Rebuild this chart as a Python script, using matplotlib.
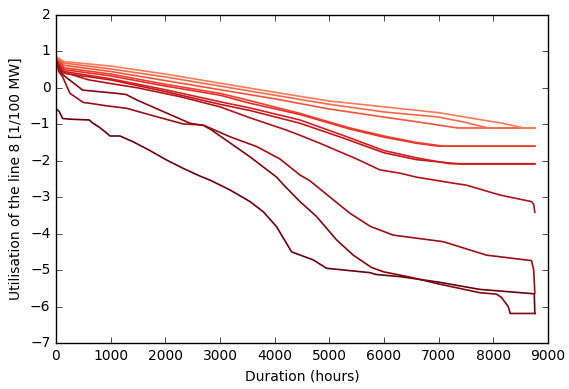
import matplotlib.pyplot as plt
import numpy as np

# duration curves of line 8 utilisation, one per scenario
l1_x = [0, 60, 122, 274, 609, 670, 792, 896, 988, 1170, 1414, 1719, 2024, 2329, 2634, 2817,
        3183, 3549, 3793, 4036, 4310, 4706, 4950, 5743, 5853, 6300, 7000, 7755, 8750, 8760]
l1_y = [-0.57, -0.65, -0.84, -0.86, -0.88, -0.96, -1.08, -1.2, -1.32, -1.32, -1.48, -1.72, -1.98,
        -2.21, -2.42, -2.53, -2.80, -3.12, -3.40, -3.81, -4.50, -4.72, -4.95, -5.07, -5.12,
        -5.18, -5.33, -5.53, -5.65, -6.19]

l2_x = [0, 60, 134, 488, 1110, 1280, 1476, 1902, 2451, 2700, 2850, 3548, 4037, 4157, 4463,
        4767, 5133, 5438, 5774, 6000, 6500, 7000, 7755, 8060, 8150, 8273, 8310, 8760]
l2_y = [0.8, 0.5, 0.35, -0.06, -0.15, -0.18, -0.33, -0.61, -0.97, -1.03, -1.16, -1.89, -2.45,
        -2.65, -3.12, -3.53, -4.17, -4.59, -4.93, -5.05, -5.2, -5.38, -5.62, -5.66, -5.75,
        -6.0, -6.19, -6.19]

l3_x = [0, 50, 122, 256, 500, 610, 915, 1293, 1719, 2329, 2694, 3183, 3671, 4097, 4463,
        4646, 5377, 5750, 6170, 7084, 7877, 8700, 8740, 8760]
l3_y = [0.8, 0.45, 0.3, -0.15, -0.4, -0.42, -0.49, -0.56, -0.74, -0.99, -1.02, -1.34, -1.61,
        -1.95, -2.39, -2.55, -3.44, -3.8, -4.04, -4.22, -4.59, -4.74, -5.0, -5.64]

l4_x = [0, 100, 600, 1000, 1500, 2268, 3000, 3548, 4220, 4463, 4829, 5500, 5926, 6292, 6597,
        7207, 7511, 8120, 8700, 8740, 8760]
l4_y = [0.8, 0.45, 0.22, 0.12, 0.0, -0.24, -0.52, -0.82, -1.16, -1.3, -1.52, -1.95, -2.25,
        -2.34, -2.45, -2.6, -2.67, -2.94, -3.12, -3.2, -3.41]

d1_x = [0, 150, 1000, 2000, 3000, 3548, 4463, 5300, 6000, 6600, 7200, 8760]
d1_y = [0.85, 0.45, 0.25, -0.05, -0.38, -0.55, -0.88, -1.33, -1.72, -1.92, -2.08, -2.08]
d2_x = [0, 150, 1000, 2000, 3000, 3548, 4463, 5300, 6000, 6600, 7400, 8760]
d2_y = [0.85, 0.4, 0.22, -0.1, -0.45, -0.62, -0.97, -1.4, -1.78, -1.97, -2.09, -2.09]

r1_x = [0, 150, 1000, 2000, 3000, 3548, 4463, 5377, 6000, 6600, 7100, 8760]
r1_y = [0.85, 0.55, 0.38, 0.1, -0.15, -0.35, -0.7, -1.1, -1.32, -1.5, -1.6, -1.6]
r2_x = [0, 150, 1000, 2000, 3000, 3548, 4463, 5377, 6000, 6600, 7000, 8760]
r2_y = [0.85, 0.5, 0.33, 0.05, -0.2, -0.42, -0.73, -1.13, -1.35, -1.52, -1.6, -1.6]

s1_x = [0, 150, 1000, 2000, 3000, 4000, 5000, 6000, 7000, 7800, 8200, 8550, 8760]
s1_y = [0.85, 0.72, 0.6, 0.38, 0.13, -0.12, -0.36, -0.52, -0.68, -0.88, -0.98, -1.1, -1.1]
s2_x = [0, 150, 1000, 2000, 3000, 4000, 5000, 6000, 7000, 7500, 7900, 8760]
s2_y = [0.85, 0.68, 0.52, 0.3, 0.05, -0.2, -0.45, -0.66, -0.8, -0.95, -1.1, -1.1]
s3_x = [0, 150, 1000, 2000, 3000, 4000, 5000, 6000, 6600, 7350, 8760]
s3_y = [0.85, 0.62, 0.45, 0.2, -0.05, -0.3, -0.58, -0.8, -0.93, -1.1, -1.1]

curves = [(l1_x, l1_y), (l2_x, l2_y), (l3_x, l3_y), (l4_x, l4_y), (d2_x, d2_y), (d1_x, d1_y),
          (r2_x, r2_y), (r1_x, r1_y), (s3_x, s3_y), (s2_x, s2_y), (s1_x, s1_y)]

plt.style.use('classic')
plt.rcParams['font.size'] = 10

fig = plt.figure(figsize=(5.69, 3.89), dpi=100, facecolor='white')
ax = fig.add_axes([0.0984, 0.1183, 0.8646, 0.8431])

colors = plt.cm.Reds(np.linspace(1.0, 0.45, len(curves)))
for (x, y), c in zip(curves, colors):
    ax.plot(x, y, color=c, lw=1.2)

ax.set_xlim(0, 9000)
ax.set_ylim(-7, 2)
ax.set_xlabel('Duration (hours)')
ax.set_ylabel('Utilisation of the line 8 [1/100 MW]')
ax.tick_params(labelsize=10)

fig.savefig('out.png', dpi=100, facecolor='white')
